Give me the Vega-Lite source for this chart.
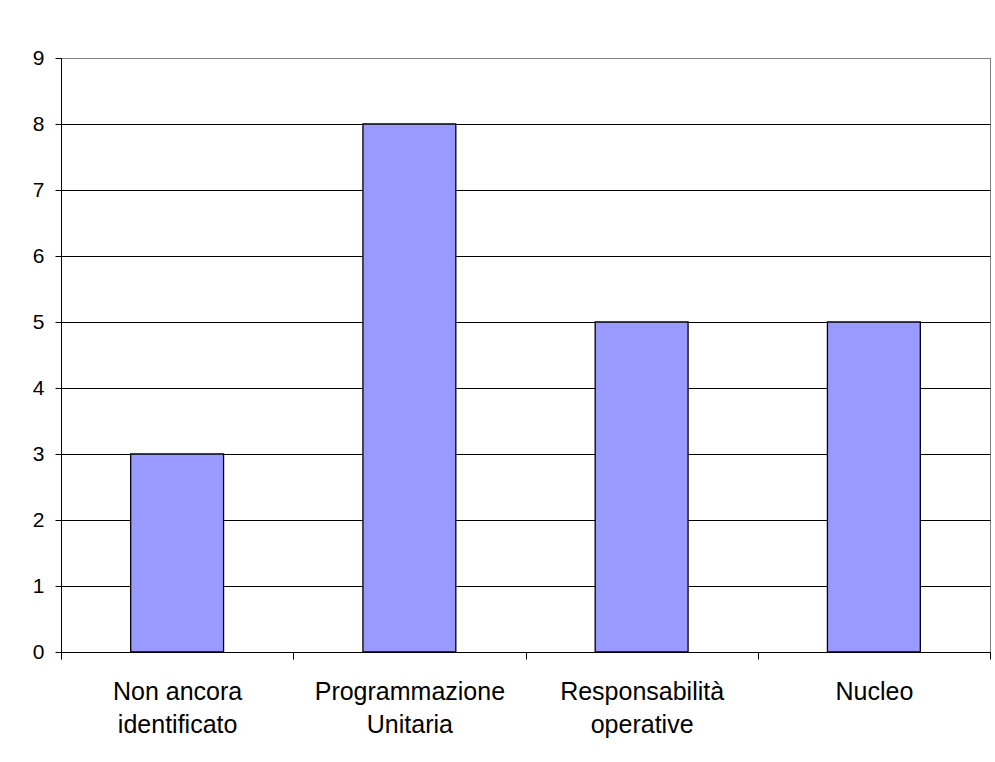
{
  "$schema": "https://vega.github.io/schema/vega-lite/v6.json",
  "autosize": "none",
  "width": 929,
  "height": 594,
  "padding": {"left": 61, "top": 58, "right": 5, "bottom": 110},
  "background": "white",
  "config": {
    "view": {"stroke": "#808080", "strokeWidth": 1},
    "font": "Liberation Sans"
  },
  "data": {
    "values": [
      {"categoria": "Non ancora identificato", "valore": 3},
      {"categoria": "Programmazione Unitaria", "valore": 8},
      {"categoria": "Responsabilità operative", "valore": 5},
      {"categoria": "Nucleo", "valore": 5}
    ]
  },
  "mark": {"type": "bar", "fill": "#9999FF", "stroke": "black", "strokeWidth": 1.3, "width": {"band": 0.4}},
  "encoding": {
    "x": {
      "field": "categoria",
      "type": "nominal",
      "sort": null,
      "scale": {"paddingInner": 0, "paddingOuter": 0},
      "axis": {
        "title": null,
        "labelAngle": 0,
        "labelFontSize": 25,
        "labelColor": "black",
        "labelLimit": 400,
        "labelLineHeight": 33,
        "labelPadding": 20,
        "labelBaseline": "top",
        "tickBand": "extent",
        "tickSize": 7,
        "tickColor": "black",
        "domainColor": "black",
        "labelExpr": "datum.label == 'Non ancora identificato' ? ['Non ancora', 'identificato'] : datum.label == 'Programmazione Unitaria' ? ['Programmazione', 'Unitaria'] : datum.label == 'Responsabilità operative' ? ['Responsabilità', 'operative'] : datum.label"
      }
    },
    "y": {
      "field": "valore",
      "type": "quantitative",
      "scale": {"domain": [0, 9], "nice": false},
      "axis": {
        "title": null,
        "values": [0, 1, 2, 3, 4, 5, 6, 7, 8, 9],
        "labelFontSize": 21,
        "labelColor": "black",
        "labelPadding": 11,
        "tickSize": 6,
        "tickColor": "black",
        "domainColor": "black",
        "grid": true,
        "gridColor": {"condition": {"test": "datum.value == 9", "value": "#808080"}, "value": "black"},
        "gridOpacity": 1
      }
    }
  }
}
